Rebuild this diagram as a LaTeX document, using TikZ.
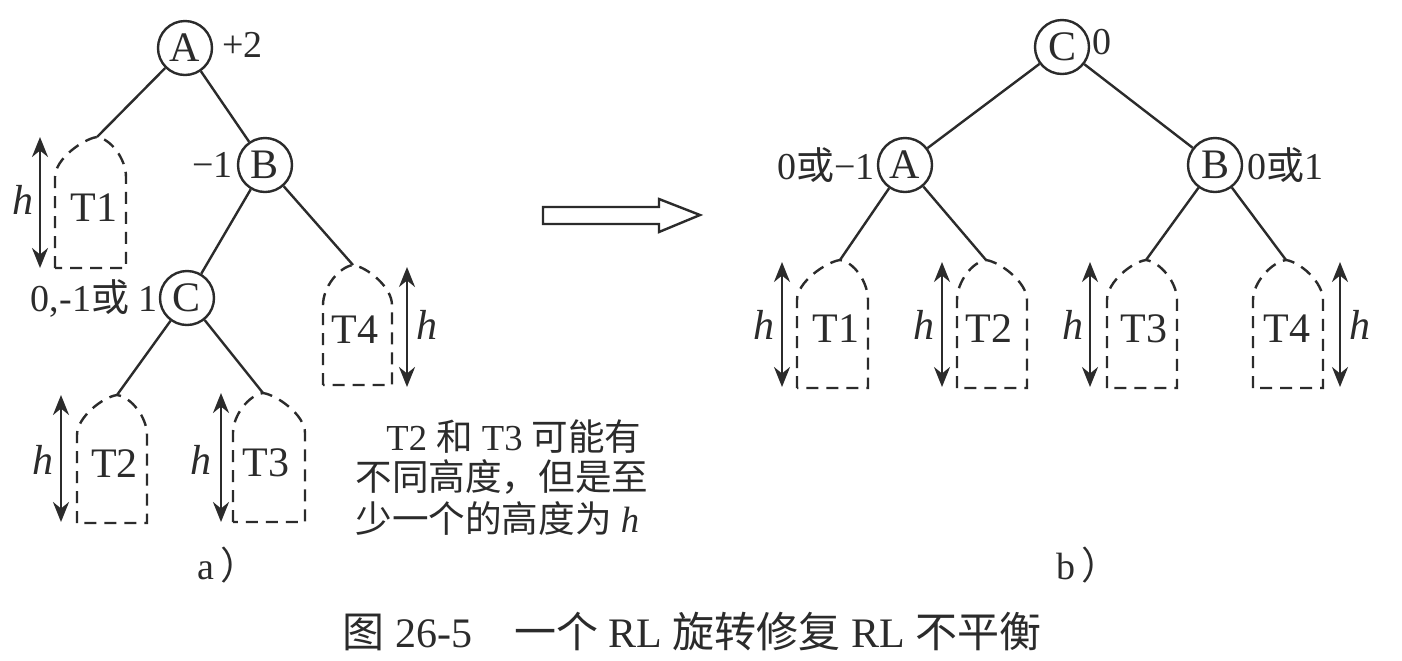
\documentclass[tikz,border=0pt]{standalone}
\usepackage{fontspec}
\setmainfont{Liberation Serif}
\newfontfamily\cjk{Noto Sans CJK SC}
\usetikzlibrary{arrows.meta}
\definecolor{ink}{HTML}{2B2B2B}
\newcommand{\subtree}[7]{%
  \coordinate (#1) at (#2,#3);
  \draw[subt] (#4,#6) -- (#4,#3+40) .. controls (#4,#3+22) and (#2-14,#3+2) .. (#2,#3)
     .. controls (#2+14,#3+2) and (#5,#3+22) .. (#5,#3+40) -- (#5,#6) -- cycle;
  \node[lbl] (#1t) at ({(#4+#5)/4+#2/2},{(#3+#6)/2+5}) {#7};
}
\begin{document}
\begin{tikzpicture}[x=0.5pt,y=-0.5pt,
  every node/.style={font=\fontsize{19}{23}\selectfont, inner sep=0pt, text=ink},
  vtx/.style={circle, draw=ink, line width=1.2pt, minimum size=27pt, font=\fontsize{21}{25}\selectfont},
  edge/.style={draw=ink, line width=1.2pt},
  subt/.style={draw=ink, line width=1.2pt, dash pattern=on 6pt off 4pt},
  harrow/.style={draw=ink, line width=1.3pt, {Stealth[length=10pt,width=8pt]}-{Stealth[length=10pt,width=8pt]}},
  lbl/.style={text=ink, font=\fontsize{21}{25}\selectfont},
  note/.style={anchor=west, font=\fontsize{18.3}{22}\selectfont}
]
\useasboundingbox[fill=white] (0,0) rectangle (1402,660);

% ---------- a) ----------
\node[vtx] (aA) at (185,48) {A};
\node[vtx] (aB) at (265,165) {B};
\node[vtx] (aC) at (187,298) {C};
\node[anchor=west] (aAl) at (222,45) {+2};
\node[anchor=east] (aBl) at (233,165) {−1};
\node[anchor=east] (aCl) at (158,298) {0,-1{\cjk 或} 1};

\subtree{aT1}{97}{137}{55}{126}{268}{T1}
\subtree{aT4}{353}{265}{323}{392}{385}{T4}
\subtree{aT2}{117}{395}{77}{147}{523}{T2}
\subtree{aT3}{263}{393}{233}{305}{522}{T3}

\draw[edge] (aA) -- (aT1);
\draw[edge] (aA) -- (aB);
\draw[edge] (aB) -- (aC);
\draw[edge] (aB) -- (aT4);
\draw[edge] (aC) -- (aT2);
\draw[edge] (aC) -- (aT3);

\coordinate (ah1t) at (40,137); \coordinate (ah1b) at (40,268);
\coordinate (ah4t) at (407,267); \coordinate (ah4b) at (407,387);
\coordinate (ah2t) at (61,395); \coordinate (ah2b) at (61,522);
\coordinate (ah3t) at (221,393); \coordinate (ah3b) at (221,522);
\draw[harrow] (ah1t) -- (ah1b);
\draw[harrow] (ah4t) -- (ah4b);
\draw[harrow] (ah2t) -- (ah2b);
\draw[harrow] (ah3t) -- (ah3b);
\node[lbl] (ahl1) at (23,200) {\textit{h}};
\node[lbl] (ahl4) at (427,325) {\textit{h}};
\node[lbl] (ahl2) at (43,460) {\textit{h}};
\node[lbl] (ahl3) at (201,460) {\textit{h}};

\node[note] (note1) at (386,437) {T2 {\cjk 和} T3 {\cjk 可能有}};
\node[note] (note2) at (355,477) {\cjk 不同高度，但是至};
\node[note] (note3) at (355,518) {{\cjk 少一个的高度为} \textit{h}};
\node (capa) at (228,565) {a\,{\cjk ）}};

% ---------- arrow ----------
\draw[draw=ink, line width=1.2pt, fill=white]
  (543,207) -- (659,207) -- (659,199) -- (700,215) -- (659,232) -- (659,224) -- (543,224) -- cycle;

% ---------- b) ----------
\node[vtx] (bC) at (1062,47) {C};
\node[vtx] (bA) at (905,165) {A};
\node[vtx] (bB) at (1215,165) {B};
\node[anchor=west] (bCl) at (1092,42) {0};
\node[anchor=east] (bAl) at (875,165) {0{\cjk 或}−1};
\node[anchor=west] (bBl) at (1247,165) {0{\cjk 或}1};

\subtree{bT1}{840}{260}{797}{868}{388}{T1}
\subtree{bT2}{986}{260}{957}{1027}{388}{T2}
\subtree{bT3}{1146}{260}{1107}{1177}{388}{T3}
\subtree{bT4}{1286}{260}{1253}{1323}{388}{T4}

\draw[edge] (bC) -- (bA);
\draw[edge] (bC) -- (bB);
\draw[edge] (bA) -- (bT1);
\draw[edge] (bA) -- (bT2);
\draw[edge] (bB) -- (bT3);
\draw[edge] (bB) -- (bT4);

\coordinate (bh1t) at (782,262); \coordinate (bh1b) at (782,387);
\coordinate (bh2t) at (942,262); \coordinate (bh2b) at (942,387);
\coordinate (bh3t) at (1090,262); \coordinate (bh3b) at (1090,387);
\coordinate (bh4t) at (1340,262); \coordinate (bh4b) at (1340,387);
\draw[harrow] (bh1t) -- (bh1b);
\draw[harrow] (bh2t) -- (bh2b);
\draw[harrow] (bh3t) -- (bh3b);
\draw[harrow] (bh4t) -- (bh4b);
\node[lbl] (bhl1) at (764,325) {\textit{h}};
\node[lbl] (bhl2) at (924,325) {\textit{h}};
\node[lbl] (bhl3) at (1073,325) {\textit{h}};
\node[lbl] (bhl4) at (1360,325) {\textit{h}};

\node (capb) at (1088,565) {b\,{\cjk ）}};

% ---------- caption ----------
\node[font=\fontsize{21}{25}\selectfont] (title) at (692,632) {{\cjk 图} 26-5\quad{\cjk 一个} RL {\cjk 旋转修复} RL {\cjk 不平衡}};
\end{tikzpicture}
\end{document}
